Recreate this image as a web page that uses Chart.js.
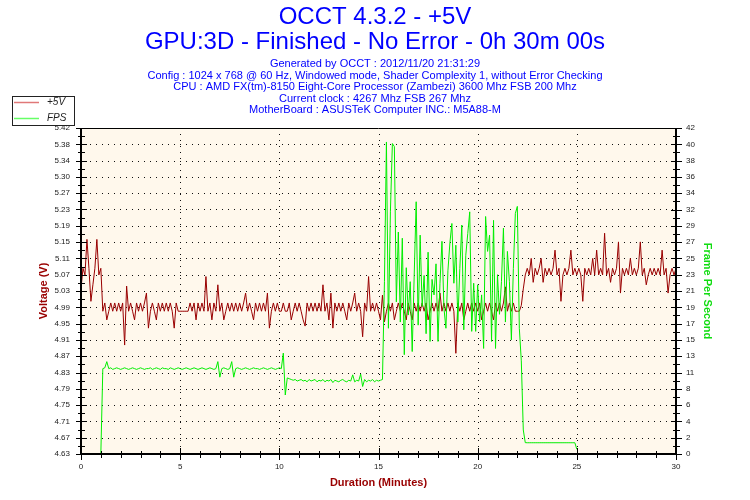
<!DOCTYPE html>
<html><head><meta charset="utf-8">
<script src="https://cdn.jsdelivr.net/npm/chart.js@4.4.0/dist/chart.umd.min.js"></script>
<style>html,body{margin:0;padding:0;background:#fff;}canvas{display:block;}</style>
</head><body>
<canvas id="c" width="750" height="500"></canvas>
<script>
const titleLines = ['OCCT 4.3.2 - +5V', 'GPU:3D - Finished - No Error - 0h 30m 00s'];
const infoLines = [
  'Generated by OCCT : 2012/11/20 21:31:29',
  'Config : 1024 x 768 @ 60 Hz, Windowed mode, Shader Complexity 1, without Error Checking',
  'CPU : AMD FX(tm)-8150 Eight-Core Processor (Zambezi) 3600 Mhz FSB 200 Mhz',
  'Current clock : 4267 Mhz FSB 267 Mhz',
  'MotherBoard : ASUSTeK Computer INC.: M5A88-M'
];
const xTickValues = [0, 5, 10, 15, 20, 25, 30];
const voltTickLabels = ['4.63','4.67','4.71','4.75','4.79','4.83','4.87','4.91','4.95','4.99','5.03','5.07','5.11','5.15','5.19','5.23','5.27','5.30','5.34','5.38','5.42'];
const fpsTickLabels = ['0','2','4','6','8','11','13','15','17','19','21','23','25','27','29','32','34','36','38','40','42'];
const voltRange = [4.63, 5.42];
const fpsRange = [0, 42];
const sampleStepMinutes = 0.1;

// +5V readings, one row per minute (10 samples per minute)
const voltage = [
  5.03, 5.08, 5.064, 5.15, 5.08, 5.00, 5.04, 5.08, 5.15, 5.064,
  5.08, 4.976, 4.996, 4.955, 4.976, 4.996, 4.976, 4.996, 4.976, 4.996,
  4.976, 4.996, 4.894, 5.037, 4.976, 4.996, 4.976, 4.955, 4.996, 4.976,
  4.996, 4.976, 4.996, 5.02, 4.935, 4.976, 4.996, 4.976, 4.955, 4.996,
  4.976, 4.996, 4.976, 4.996, 4.976, 4.996, 4.976, 4.935, 4.996, 4.976,
  4.976, 4.976, 4.976, 4.976, 4.976, 4.996, 4.976, 4.996, 4.955, 4.996,
  4.976, 4.996, 4.976, 5.06, 4.976, 4.996, 4.955, 4.996, 4.976, 5.04,
  4.976, 4.996, 4.955, 4.976, 4.996, 4.976, 4.996, 4.976, 4.996, 4.976,
  4.996, 4.976, 4.996, 5.02, 4.976, 4.996, 4.976, 4.955, 4.996, 4.976,
  4.996, 4.976, 4.996, 4.976, 5.02, 4.935, 4.976, 4.996, 4.976, 4.996,
  4.976, 4.976, 4.996, 4.976, 4.976, 4.996, 4.955, 4.976, 4.996, 4.976,
  4.996, 4.976, 4.955, 4.94, 4.996, 4.976, 4.996, 4.976, 4.996, 4.976,
  4.996, 4.976, 5.04, 4.976, 4.996, 4.955, 5.02, 4.935, 4.996, 4.976,
  4.996, 4.976, 4.996, 4.976, 4.955, 4.996, 4.976, 4.996, 5.02, 4.976,
  4.996, 4.976, 4.914, 4.996, 4.976, 5.06, 4.976, 4.996, 4.976, 4.996,
  4.976, 4.955, 5.015, 4.95, 4.976, 4.996, 4.976, 4.996, 4.955, 4.976,
  4.996, 4.976, 4.996, 4.976, 4.955, 4.996, 4.976, 4.955, 4.996, 4.976,
  4.996, 4.976, 4.996, 4.976, 4.996, 4.955, 4.976, 4.996, 4.976, 4.996,
  4.976, 5.02, 4.976, 4.996, 4.976, 4.996, 4.976, 4.996, 4.976, 4.874,
  4.996, 4.976, 4.996, 4.955, 4.976, 4.996, 4.976, 4.996, 4.976, 4.996,
  4.976, 4.996, 4.955, 4.976, 4.996, 4.976, 4.996, 4.976, 4.955, 4.996,
  4.976, 4.996, 4.976, 4.996, 5.035, 4.976, 4.996, 4.976, 4.996, 4.976,
  4.976, 4.976, 4.99, 5.03, 5.064, 5.08, 5.064, 5.104, 5.046, 5.08,
  5.064, 5.08, 5.104, 5.046, 5.08, 5.064, 5.08, 5.064, 5.08, 5.124,
  5.064, 5.08, 5.00, 5.064, 5.08, 5.064, 5.08, 5.124, 5.064, 5.08,
  5.064, 5.08, 5.064, 5.00, 5.08, 5.064, 5.08, 5.064, 5.104, 5.064,
  5.124, 5.064, 5.08, 5.064, 5.165, 5.064, 5.08, 5.046, 5.08, 5.064,
  5.08, 5.144, 5.02, 5.08, 5.064, 5.08, 5.064, 5.104, 5.064, 5.08,
  5.064, 5.08, 5.144, 5.064, 5.08, 5.04, 5.064, 5.08, 5.064, 5.08,
  5.064, 5.08, 5.064, 5.124, 5.064, 5.08, 5.02, 5.064, 5.08, 5.064,
  5.08
];

// FPS readings, same sampling (null = no reading)
const fps = [
  null, null, null, null, null, null, null, null, null, null,
  0, 11.0, 11.1, 11.9, 11.0, 11.1, 10.9, 11.0, 11.1, 11.0,
  10.9, 11.0, 11.1, 11.0, 10.9, 11.0, 11.1, 11.0, 10.9, 11.0,
  11.1, 11.0, 10.9, 11.0, 11.0, 11.1, 10.9, 11.0, 11.1, 11.0,
  10.9, 11.1, 11.0, 11.0, 10.9, 11.1, 11.0, 10.9, 11.0, 11.1,
  11.0, 10.9, 11.0, 11.1, 11.0, 10.9, 11.0, 11.1, 11.0, 10.9,
  11.0, 11.1, 11.0, 10.9, 11.0, 11.1, 11.0, 10.9, 11.0, 11.9,
  9.9, 11.0, 11.1, 11.0, 10.9, 11.0, 11.9, 9.9, 11.0, 11.1,
  11.0, 10.9, 11.0, 11.1, 11.0, 10.9, 11.0, 11.1, 11.0, 11.0,
  10.9, 11.0, 11.1, 11.0, 10.9, 11.0, 11.1, 11.0, 10.9, 11.0,
  11.1, 11.0, 13.0, 7.6, 9.8, 9.7, 9.6, 9.5, 9.6, 9.4,
  9.5, 9.6, 9.4, 9.5, 9.3, 9.6, 9.4, 9.5, 9.6, 9.3,
  9.5, 9.4, 9.6, 9.3, 9.5, 9.4, 9.6, 9.2, 9.5, 9.4,
  9.3, 9.5, 9.6, 9.4, 9.3, 9.5, 9.4, 10.2, 9.3, 9.5,
  9.4, 10.3, 8.7, 9.6, 9.3, 9.5, 9.4, 9.6, 9.3, 9.5,
  9.4, 9.5, 9.6, 22.2, 40.2, 16.2, 31.2, 40.0, 39.6, 19.6,
  28.6, 17.0, 27.8, 12.8, 24.0, 17.9, 22.2, 13.2, 23.0, 32.5,
  16.6, 28.2, 19.0, 23.0, 15.5, 26.0, 14.5, 22.5, 20.5, 24.5,
  14.5, 22.0, 27.4, 18.8, 16.2, 23.6, 27.2, 29.7, 22.0, 26.9,
  17.0, 23.9, 29.5, 16.0, 25.6, 28.4, 31.2, 15.8, 22.0, 15.8,
  21.8, 17.0, 20.5, 13.6, 30.6, 26.1, 28.2, 14.5, 30.1, 13.6,
  23.1, 18.0, 22.2, 29.1, 17.0, 26.1, 22.2, 14.7, 23.9, 31.0,
  31.9, 16.2, 12.0, 3.1, 1.46, 1.45, 1.45, 1.45, 1.45, 1.45,
  1.45, 1.45, 1.45, 1.45, 1.45, 1.45, 1.45, 1.45, 1.45, 1.45,
  1.45, 1.45, 1.45, 1.45, 1.45, 1.45, 1.45, 1.45, 1.45, 1.45,
  0.6, null, null, null, null, null, null, null, null, null,
  null, null, null, null, null, null, null, null, null, null,
  null, null, null, null, null, null, null, null, null, null,
  null, null, null, null, null, null, null, null, null, null,
  null, null, null, null, null, null, null, null, null, null,
  null
];

const FONT = '"Liberation Sans", Arial, sans-serif';
Chart.defaults.font.family = FONT;

const toPoints = arr => arr.map((v, i) => ({ x: +(i * sampleStepMinutes).toFixed(1), y: v }));
const evenTicks = (labels, range) => labels.map((l, i) => ({ value: range[0] + i * (range[1] - range[0]) / (labels.length - 1) }));

const framePlugin = {
  id: 'framePlugin',
  beforeDatasetsDraw(chart) {
    const { ctx, chartArea: a, scales } = chart;
    ctx.save();
    ctx.fillStyle = '#fff8ec';
    ctx.fillRect(a.left, a.top, a.right - a.left, a.bottom - a.top);
    ctx.strokeStyle = '#111';
    ctx.lineWidth = 1;
    ctx.setLineDash([1, 5]);
    const yt = scales.yV.ticks;
    yt.forEach((t, i) => {
      if (i === 0 || i === yt.length - 1) return;
      const y = Math.round(scales.yV.getPixelForValue(t.value)) + 0.5;
      ctx.beginPath(); ctx.moveTo(a.left + 3, y); ctx.lineTo(a.right, y); ctx.stroke();
    });
    const xt = scales.x.ticks;
    xt.forEach((t, i) => {
      if (i === 0 || i === xt.length - 1) return;
      const x = Math.round(scales.x.getPixelForValue(t.value)) + 0.5;
      ctx.beginPath(); ctx.moveTo(x, a.top); ctx.lineTo(x, a.bottom); ctx.stroke();
    });
    ctx.restore();
  },
  afterDatasetsDraw(chart) {
    const { ctx, chartArea: a, scales } = chart;
    ctx.save();
    ctx.strokeStyle = '#000';
    ctx.setLineDash([]);
    ctx.lineWidth = 1;
    ctx.beginPath(); ctx.moveTo(a.left, a.top + 0.5); ctx.lineTo(a.right, a.top + 0.5); ctx.stroke();
    ctx.lineWidth = 2;
    ctx.beginPath();
    ctx.moveTo(a.left, a.top); ctx.lineTo(a.left, a.bottom); ctx.lineTo(a.right, a.bottom); ctx.lineTo(a.right, a.top);
    ctx.stroke();
    ctx.lineWidth = 1;
    // vertical axes ticks (major + minor midpoints)
    const drawYTicks = (scale, xEdge) => {
      const tk = scale.ticks;
      tk.forEach((t, i) => {
        const y = Math.round(scale.getPixelForValue(t.value)) + 0.5;
        ctx.beginPath(); ctx.moveTo(xEdge - 5, y); ctx.lineTo(xEdge + 6, y); ctx.stroke();
        if (i < tk.length - 1) {
          const ym = Math.round(scale.getPixelForValue((t.value + tk[i + 1].value) / 2)) + 0.5;
          ctx.beginPath(); ctx.moveTo(xEdge - 3, ym); ctx.lineTo(xEdge + 4, ym); ctx.stroke();
        }
      });
    };
    drawYTicks(scales.yV, a.left);
    drawYTicks(scales.yF, a.right);
    // x ticks: major at labelled ticks, minor every minute
    const xs = scales.x;
    for (let m = xs.min; m <= xs.max; m++) {
      const x = Math.round(xs.getPixelForValue(m)) + 0.5;
      const major = xTickValues.includes(m);
      ctx.beginPath();
      ctx.moveTo(x, a.bottom - (major ? 6 : 3));
      ctx.lineTo(x, a.bottom + (major ? 6 : 4));
      ctx.stroke();
    }
    ctx.restore();
  },
  afterDraw(chart) {
    const { ctx } = chart;
    ctx.save();
    ctx.fillStyle = '#fff';
    ctx.fillRect(12.5, 96.5, 62, 29);
    ctx.strokeStyle = '#222';
    ctx.lineWidth = 1;
    ctx.strokeRect(12.5, 96.5, 62, 29);
    ['+5V', 'FPS'].forEach((label, i) => {
      const ds = chart.data.datasets.find(d => d.label === label);
      const y = 102.5 + i * 16;
      ctx.strokeStyle = ds.legendColor;
      ctx.lineWidth = 1.5;
      ctx.beginPath(); ctx.moveTo(14, y); ctx.lineTo(39, y); ctx.stroke();
      ctx.fillStyle = '#222';
      ctx.font = 'italic 10px ' + FONT;
      ctx.textBaseline = 'middle';
      ctx.textAlign = 'left';
      ctx.fillText(label, 47, y);
    });
    ctx.restore();
  }
};

new Chart(document.getElementById('c'), {
  type: 'line',
  data: {
    datasets: [
      { label: '+5V', yAxisID: 'yV', data: toPoints(voltage), borderColor: '#990000', legendColor: '#e07878',
        borderWidth: 1, pointRadius: 0, tension: 0, order: 1 },
      { label: 'FPS', yAxisID: 'yF', data: toPoints(fps), borderColor: '#00ee00', legendColor: '#66ff66',
        borderWidth: 1, pointRadius: 0, tension: 0, spanGaps: false, order: 0 }
    ]
  },
  options: {
    responsive: false,
    animation: false,
    events: [],
    layout: { padding: 0 },
    plugins: {
      legend: { display: false },
      tooltip: { enabled: false },
      title: {
        display: true, text: titleLines, color: '#0000ff',
        font: { family: FONT, size: 24, weight: 'normal', lineHeight: '25px' },
        padding: { top: 5, bottom: 0 }
      },
      subtitle: {
        display: true, text: infoLines, color: '#0000ff',
        font: { family: FONT, size: 11, weight: 'normal', lineHeight: '11.5px' },
        padding: { top: 3.25, bottom: 12.25 }
      }
    },
    scales: {
      x: {
        type: 'linear', min: 0, max: 30,
        afterBuildTicks: s => { s.ticks = xTickValues.map(v => ({ value: v })); },
        afterFit: s => { s.height = 46; },
        ticks: { color: '#222', font: { size: 8 }, padding: 8, maxRotation: 0, autoSkip: false,
          callback: v => String(v) },
        grid: { display: false, drawTicks: false },
        border: { display: false },
        title: { display: true, text: 'Duration (Minutes)', color: '#990000',
          font: { size: 11, weight: 'bold' }, padding: { top: 0, bottom: 10.4 } }
      },
      yV: {
        type: 'linear', position: 'left', min: voltRange[0], max: voltRange[1],
        afterBuildTicks: s => { s.ticks = evenTicks(voltTickLabels, voltRange); },
        afterFit: s => { s.width = 81; },
        ticks: { color: '#222', font: { size: 8 }, padding: 11, autoSkip: false,
          callback: (v, i) => voltTickLabels[i] },
        grid: { display: false, drawTicks: false },
        border: { display: false },
        title: { display: true, text: 'Voltage (V)', color: '#990000',
          font: { size: 11, weight: 'bold' }, padding: { top: 37, bottom: 0 } }
      },
      yF: {
        type: 'linear', position: 'right', min: fpsRange[0], max: fpsRange[1],
        afterBuildTicks: s => { s.ticks = evenTicks(fpsTickLabels, fpsRange); },
        afterFit: s => { s.width = 74; },
        ticks: { color: '#222', font: { size: 8 }, padding: 10, autoSkip: false,
          callback: (v, i) => fpsTickLabels[i] },
        grid: { display: false, drawTicks: false },
        border: { display: false },
        title: { display: true, text: 'Frame Per Second', color: '#11dd11',
          font: { size: 11, weight: 'bold' }, padding: { top: 36.5, bottom: 0 } }
      }
    }
  },
  plugins: [framePlugin]
});
</script>
</body></html>
